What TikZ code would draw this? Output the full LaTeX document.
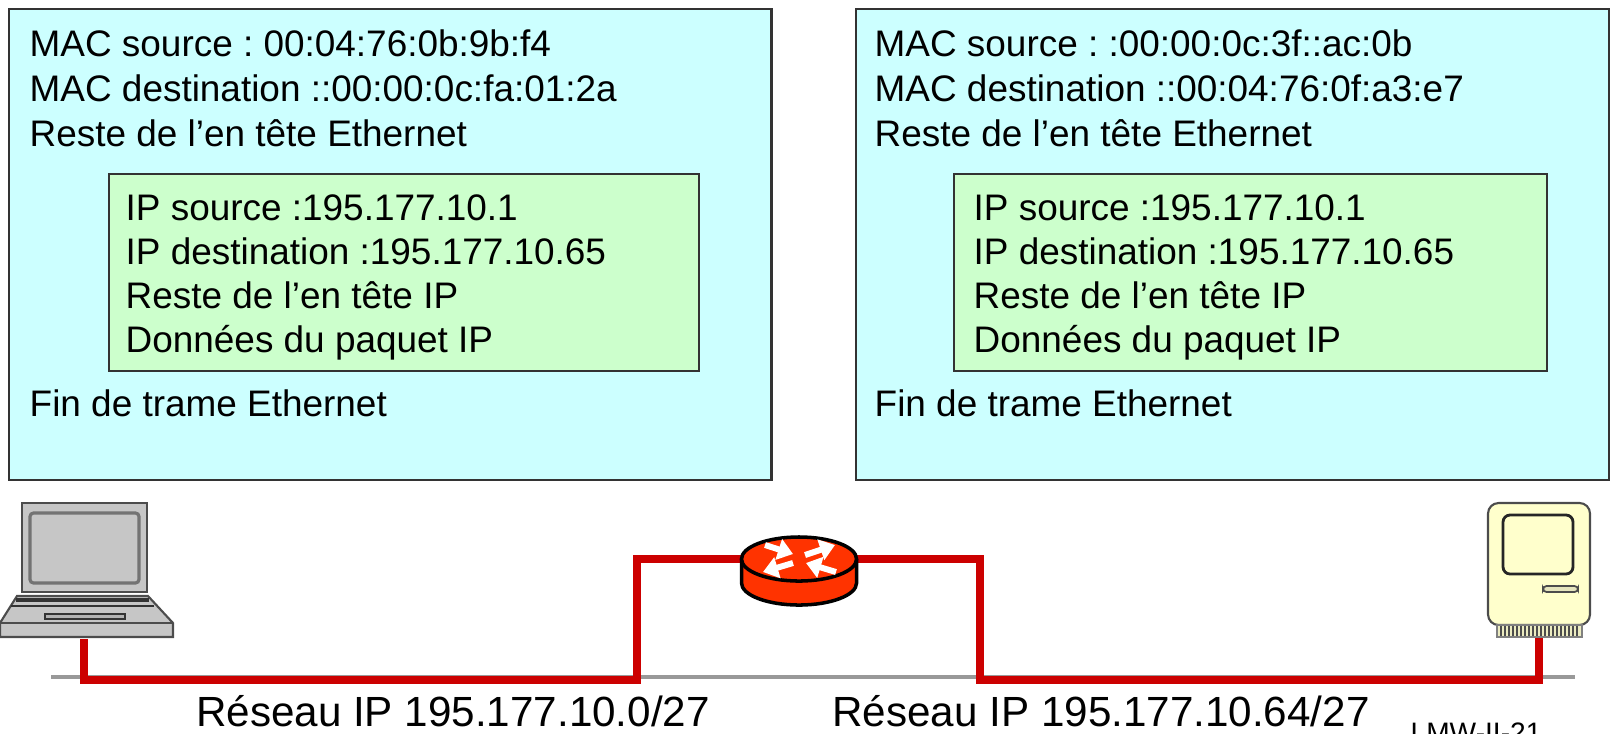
\documentclass[tikz,border=0pt]{standalone}
\usepackage{fontspec}
\setmainfont{Liberation Sans}
\usetikzlibrary{positioning, arrows, arrows.meta, shapes}
\definecolor{cyanpale}{HTML}{CCFFFF}
\definecolor{vertpale}{HTML}{CCFFCC}
\definecolor{rouge}{HTML}{CC0000}
\definecolor{rougerouteur}{HTML}{FF3300}
\definecolor{beige}{HTML}{FFFFCC}
\tikzset{x=0.01cm, y=-0.01cm,
  trame/.style={draw=black!80, fill=cyanpale, line width=0.6pt, anchor=north west, inner sep=0pt},
  paquet/.style={draw=black!80, fill=vertpale, line width=0.6pt, anchor=north west, inner sep=0pt},
  ligne/.style={anchor=base west, inner sep=0pt, font=\fontsize{10.5}{12.6}\selectfont\frenchspacing},
  reseau/.style={anchor=base, inner sep=0pt, font=\fontsize{12}{14}\selectfont},
  lien/.style={rouge, line width=2.3pt},
  fleche/.style={white, line width=1.7pt, -{Triangle[length=1.5mm, width=2.1mm]}},
  appareil/.style={inner sep=0pt}}

\begin{document}
\begin{tikzpicture}
    \useasboundingbox (0,0) rectangle (1610,733);
    % trames
    \node[trame, minimum width=7.62cm, minimum height=4.71cm] (trameA) at (8,8) {};
    \node[trame, minimum width=7.53cm, minimum height=4.71cm] (trameB) at (855,8) {};
    \node[paquet, minimum width=5.90cm, minimum height=1.97cm] (paquetA) at (108,173) {};
    \node[paquet, minimum width=5.93cm, minimum height=1.97cm] (paquetB) at (953,173) {};
    \foreach \t [count=\i] in {MAC source : 00:04:76:0b:9b:f4, MAC destination ::00:00:0c:fa:01:2a, Reste de l’en tête Ethernet}
        \node[ligne] (ethA\i) at (29,11+45*\i) {\t};
    \foreach \t [count=\i] in {MAC source : :00:00:0c:3f::ac:0b, MAC destination ::00:04:76:0f:a3:e7, Reste de l’en tête Ethernet}
        \node[ligne] (ethB\i) at (874,11+45*\i) {\t};
    \foreach \t [count=\i] in {IP source :195.177.10.1, IP destination :195.177.10.65, Reste de l’en tête IP, Données du paquet IP} {
        \node[ligne] (ipA\i) at (125,176+44*\i) {\t};
        \node[ligne] (ipB\i) at (973,176+44*\i) {\t};
    }
    \node[ligne] (finA) at (29,416) {Fin de trame Ethernet};
    \node[ligne] (finB) at (874,416) {Fin de trame Ethernet};

    % appareils
    \node[appareil, minimum width=1.73cm, minimum height=1.35cm] (portable) at (84,570.5) {};
    \node[appareil, minimum width=1.15cm, minimum height=0.44cm] (routeur) at (799,559) {};
    \node[appareil, minimum width=1.02cm, minimum height=1.34cm] (mac) at (1539,570) {};
    \coordinate (coinA) at (637,680);
    \coordinate (coinB) at (980,680);

    % reseau
    \draw[gray!80, line width=0.9pt] (51,677) -- (1575,677);
    \draw[lien] (portable.south) |- (coinA) |- (routeur.west);
    \draw[lien] (routeur.east) -| (coinB) -| (mac.south);

    % portable
    \draw[fill=gray!45, draw=black!70, line width=0.6pt] (22,503) rectangle (147,592);
    \draw[black!55, line width=0.9pt, rounded corners=1pt] (30,513) rectangle (139,583);
    \draw[fill=gray!45, draw=black!70, line width=0.6pt] (17,596) -- (148,596) -- (173,623) -- (173,637) -- (0,637) -- (0,623) -- cycle;
    \draw[black!70, line width=0.5pt] (0,623) -- (173,623);
    \draw[black!80, line width=1pt] (16,600) -- (149,600);
    \draw[black!80, line width=0.8pt] (11,606) -- (154,606);
    \draw[fill=gray!60, draw=black!80, line width=0.6pt] (45,614) rectangle (125,619);

    % routeur
    \filldraw[fill=rougerouteur, draw=black, line width=1pt] (741.5,559) -- (741.5,583) arc[start angle=180, end angle=360, x radius=0.575cm, y radius=0.22cm] -- (856.5,559);
    \filldraw[fill=rougerouteur, draw=black, line width=1pt] (routeur.center) ellipse[x radius=0.575cm, y radius=0.22cm];
    \draw[fleche] (765,545) -- (793,554);
    \draw[fleche] (805,555) -- (835,545);
    \draw[fleche] (793,563) -- (763,572);
    \draw[fleche] (836,572) -- (806,563);

    % mac
    \draw[fill=beige, draw=black!70, rounded corners=3pt, line width=0.6pt] (1488,503) rectangle (1590,625);
    \draw[black!85, rounded corners=2pt, line width=0.8pt] (1503,515) rectangle (1573,574);
    \draw[fill=beige!80!gray, draw=black!70, rounded corners=1pt, line width=0.5pt] (1543,586) rectangle (1578,592);
    \draw[fill=beige!85!gray, draw=black!50, line width=0.4pt] (1497,625) rectangle (1582,637);
    \foreach \x in {1501,1505,...,1579}
        \draw[black!70, line width=0.5pt] (\x,626) -- (\x,636);

    % legendes
    \node[reseau] (reseauA) at (453,726) {Réseau IP 195.177.10.0/27};
    \node[reseau] (reseauB) at (1101,726) {Réseau IP 195.177.10.64/27};
    \node[anchor=base, inner sep=0pt, font=\fontsize{8}{9}\selectfont] (ref) at (1476,742) {LMW-II-21};
\end{tikzpicture}
\end{document}
